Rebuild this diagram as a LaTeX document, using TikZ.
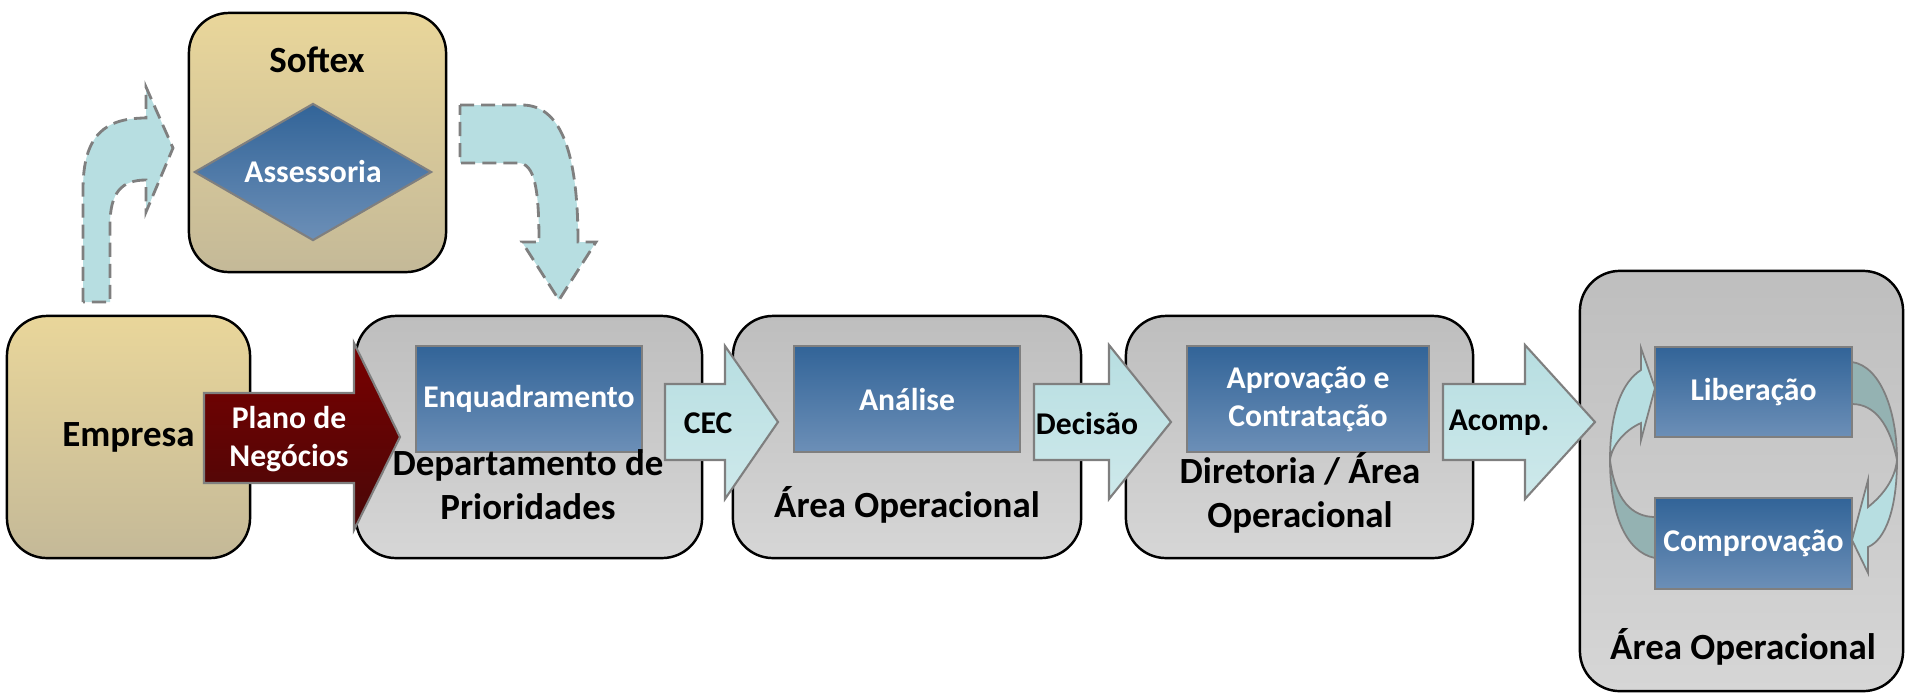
\documentclass[tikz,border=0pt]{standalone}
\usepackage{fontspec}
\setmainfont{Carlito}
\usetikzlibrary{shapes.geometric}

\definecolor{tantop}{RGB}{233,214,154}
\definecolor{tanbot}{RGB}{196,185,152}
\definecolor{greytop}{RGB}{190,190,190}
\definecolor{greybot}{RGB}{214,214,214}
\definecolor{bluetop}{RGB}{50,100,152}
\definecolor{bluebot}{RGB}{108,143,183}
\definecolor{redtop}{RGB}{122,0,0}
\definecolor{redbot}{RGB}{72,8,8}
\definecolor{cyantop}{RGB}{183,222,225}
\definecolor{cyanbot}{RGB}{206,233,235}
\definecolor{cyandark}{RGB}{148,178,178}
\definecolor{edgegrey}{RGB}{127,127,127}

\tikzset{
  tanbox/.style={draw=black, line width=0.7pt, rounded corners=0.4cm, top color=tantop, bottom color=tanbot},
  greybox/.style={draw=black, line width=0.7pt, rounded corners=0.4cm, top color=greytop, bottom color=greybot},
  task/.style={draw=edgegrey, line width=0.6pt, top color=bluetop, bottom color=bluebot, text=white, inner sep=0pt, align=center, font=\fontsize{9}{10.8}\selectfont\bfseries},
  title/.style={align=center, font=\fontsize{10.5}{12.5}\selectfont\bfseries},
  flow/.style={draw=edgegrey, line width=0.6pt, top color=cyantop, bottom color=cyanbot},
  flowtext/.style={font=\fontsize{9}{10.8}\selectfont\bfseries},
  hint/.style={draw=edgegrey, line width=0.8pt, dash pattern=on 4pt off 2pt, fill=cyantop},
  loopdark/.style={draw=edgegrey, line width=0.5pt, fill=cyandark},
  looplight/.style={draw=edgegrey, line width=0.5pt, fill=cyantop}
}

\begin{document}
\begin{tikzpicture}[x=0.01cm, y=-0.01cm]
  \useasboundingbox (0,0) rectangle (1905,693);

  % boxes
  \node[tanbox, minimum width=2.57cm, minimum height=2.59cm] (softex) at (317.5,142.5) {};
  \node[title] (softexlbl) at (317,60) {Softex};
  \node[task, diamond, aspect=1.7, minimum width=2.37cm, minimum height=1.37cm] (assess) at (313,172) {Assessoria};

  \node[tanbox, title, minimum width=2.43cm, minimum height=2.42cm] (empresa) at (128.5,437) {Empresa};
  \node[greybox, minimum width=3.46cm, minimum height=2.42cm] (dept) at (529,437) {};
  \node[greybox, minimum width=3.48cm, minimum height=2.42cm] (area) at (907,437) {};
  \node[greybox, minimum width=3.47cm, minimum height=2.42cm] (diret) at (1299.5,437) {};
  \node[greybox, minimum width=3.23cm, minimum height=4.2cm] (areaop) at (1741.5,481) {};

  % tasks
  \node[task, minimum width=2.26cm, minimum height=1.06cm] (enquad) at (529,399) {Enquadramento};
  \node[task, minimum width=2.26cm, minimum height=1.06cm] (analise) at (907,399) {Análise};
  \node[task, minimum width=2.42cm, minimum height=1.06cm] (aprov) at (1308,399) {Aprovação e\\Contratação};
  \node[task, minimum width=1.97cm, minimum height=0.9cm] (liber) at (1753.5,392) {Liberação};
  \node[task, minimum width=1.97cm, minimum height=0.91cm] (compr) at (1753.5,543.5) {Comprovação};

  \node[title] (deptlbl) at (528,485) {Departamento de\\Prioridades};
  \node[title] (arealbl) at (907,505) {Área Operacional};
  \node[title] (diretlbl) at (1300,493) {Diretoria / Área\\Operacional};
  \node[title] (areaoplbl) at (1743,647) {Área Operacional};

  % dashed hints to and from Softex
  \filldraw[hint] (83,302) -- (83,190) .. controls (83,135) and (105,118) .. (146,118)
    -- (146,87) -- (173,148) -- (146,212) -- (146,180)
    .. controls (122,180) and (110,192) .. (110,225) -- (110,302) -- cycle;
  \filldraw[hint] (460,105) -- (522,105) .. controls (560,105) and (578,150) .. (578,242)
    -- (596,242) -- (559,300) -- (522,242) -- (539,242)
    .. controls (539,190) and (535,163) .. (518,163) -- (460,163) -- cycle;

  % flow arrows
  \filldraw[draw=edgegrey, line width=0.6pt, top color=redtop, bottom color=redbot]
    (204,393) -- (354,393) -- (354,343) -- (400,437) -- (354,530) -- (354,483) -- (204,483) -- cycle;
  \node[flowtext, text=white, align=center] (plano) at (289,439) {Plano de\\Negócios};

  \filldraw[flow] (665,384) -- (725,384) -- (725,346) -- (778,422) -- (725,499) -- (725,460) -- (665,460) -- cycle;
  \node[flowtext] (cec) at (708,423) {CEC};

  \filldraw[flow] (1034,384) -- (1109,384) -- (1109,345) -- (1171,422) -- (1109,499) -- (1109,460) -- (1034,460) -- cycle;
  \node[flowtext] (decisao) at (1087,423) {Decisão};

  \filldraw[flow] (1443,384) -- (1525,384) -- (1525,345) -- (1595,422) -- (1525,499) -- (1525,460) -- (1443,460) -- cycle;
  \node[flowtext] (acomp) at (1499,423) {Acomp.};

  % cycle between Liberação and Comprovação
  \filldraw[loopdark] (1655,558) .. controls (1625,552) and (1610,512) .. (1610,460)
    .. controls (1615,500) and (1632,517) .. (1655,517) -- cycle;
  \filldraw[looplight] (1610,460) .. controls (1610,412) and (1622,382) .. (1641,370)
    -- (1641,348) -- (1655,388) -- (1641,440) -- (1641,423)
    .. controls (1625,430) and (1612,445) .. (1610,460) -- cycle;
  \filldraw[loopdark] (1852,362) .. controls (1880,366) and (1897,410) .. (1897,460)
    .. controls (1890,425) and (1875,404) .. (1852,404) -- cycle;
  \filldraw[looplight] (1897,460) .. controls (1897,510) and (1885,540) .. (1868,547)
    -- (1868,573) -- (1852,540) -- (1868,480) -- (1868,507)
    .. controls (1882,496) and (1895,480) .. (1897,460) -- cycle;
\end{tikzpicture}
\end{document}
